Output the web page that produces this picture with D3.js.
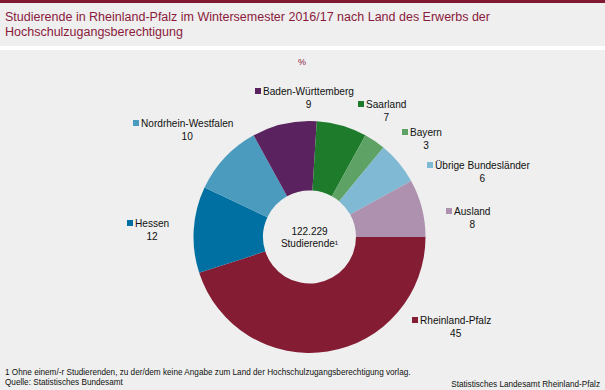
<!DOCTYPE html>
<html>
<head>
<meta charset="utf-8">
<script src="https://cdn.jsdelivr.net/npm/d3@7"></script>
<style>
  body { margin: 0; background: #fff; }
  svg { display: block; font-family: "Liberation Sans", Arial, sans-serif; }
</style>
</head>
<body>
<div id="chart"></div>
<script>
// shares in percent, clockwise from 3 o'clock
var laender = ["Rheinland-Pfalz", "Hessen", "Nordrhein-Westfalen", "Baden-Württemberg", "Saarland", "Bayern", "Übrige Bundesländer", "Ausland"];
var anteile = [45, 12, 10, 9, 7, 3, 6, 8];
var farben = ["#841c34", "#0070a2", "#4b9bbe", "#5b2260", "#1e7b2b", "#5fa266", "#80b9d4", "#ae90af"];

var width = 605, height = 390;
var cx = 309.5, cy = 237, outerRadius = 116, innerRadius = 46.5;

// legend label anchor (marker left edge, label baseline)
var labelPos = {
    "Rheinland-Pfalz": [412, 324],
    "Hessen": [127, 227],
    "Nordrhein-Westfalen": [133, 127],
    "Baden-Württemberg": [255, 95],
    "Saarland": [358, 108],
    "Bayern": [402, 136],
    "Übrige Bundesländer": [427, 169],
    "Ausland": [446, 215]
};

var data = laender.map(function(d, i) { return {land: d, wert: anteile[i], farbe: farben[i]}; });

var svg = d3.select("#chart")
    .append("svg")
    .attr("width", width)
    .attr("height", height);

// background bands
svg.append("rect").attr("x", 0).attr("y", 0).attr("width", width).attr("height", 46).attr("fill", "#eeefee");
svg.append("rect").attr("x", 0).attr("y", 50).attr("width", width).attr("height", height - 50).attr("fill", "#eeefee");
svg.append("rect").attr("x", 0).attr("y", 0).attr("width", width).attr("height", 3).attr("fill", "#7f1a32");

svg.append("text").attr("x", 5).attr("y", 21)
    .attr("fill", "#8b1a3c").style("font-size", "12.5px")
    .text("Studierende in Rheinland-Pfalz im Wintersemester 2016/17 nach Land des Erwerbs der");
svg.append("text").attr("x", 5).attr("y", 36)
    .attr("fill", "#8b1a3c").style("font-size", "12.5px")
    .text("Hochschulzugangsberechtigung");

svg.append("text").attr("x", 302).attr("y", 65).attr("text-anchor", "middle")
    .attr("fill", "#8b1a3c").style("font-size", "9px").text("%");

var pie = d3.pie()
    .sort(null)
    .value(function(d) { return d.wert; })
    .startAngle(Math.PI / 2)
    .endAngle(Math.PI / 2 + 2 * Math.PI);

var arc = d3.arc()
    .innerRadius(innerRadius)
    .outerRadius(outerRadius);

var g = svg.append("g").attr("transform", "translate(" + cx + "," + cy + ")");

g.selectAll("path")
    .data(pie(data))
    .enter()
    .append("path")
    .attr("fill", function(d) { return d.data.farbe; })
    .attr("d", arc);

g.append("text").attr("y", -2).attr("text-anchor", "middle")
    .style("font-size", "10px").attr("fill", "#111").text("122.229");
g.append("text").attr("y", 10).attr("text-anchor", "middle")
    .style("font-size", "10px").attr("fill", "#111").text("Studierende¹");

// labels
var labels = svg.append("g")
    .selectAll("g")
    .data(data)
    .enter()
    .append("g")
    .attr("transform", function(d) { var p = labelPos[d.land]; return "translate(" + p[0] + "," + p[1] + ")"; });

labels.append("rect")
    .attr("x", 0).attr("y", -7).attr("width", 6).attr("height", 6)
    .attr("fill", function(d) { return d.farbe; });

labels.each(function(d) {
    var el = d3.select(this);
    var t = el.append("text").attr("x", 8).attr("y", 0)
        .style("font-size", "10.1px").attr("fill", "#111").text(d.land);
    var w = t.node().getComputedTextLength();
    el.append("text").attr("x", 8 + w / 2).attr("y", 13).attr("text-anchor", "middle")
        .style("font-size", "10.1px").attr("fill", "#111").text(d.wert);
});

svg.append("text").attr("x", 5).attr("y", 375)
    .style("font-size", "8.2px").attr("fill", "#111")
    .text("1 Ohne einem/-r Studierenden, zu der/dem keine Angabe zum Land der Hochschulzugangsberechtigung vorlag.");
svg.append("text").attr("x", 5).attr("y", 385)
    .style("font-size", "8.2px").attr("fill", "#111")
    .text("Quelle: Statistisches Bundesamt");
svg.append("text").attr("x", 600).attr("y", 387).attr("text-anchor", "end")
    .style("font-size", "8.2px").attr("fill", "#111")
    .text("Statistisches Landesamt Rheinland-Pfalz");
</script>
</body>
</html>
